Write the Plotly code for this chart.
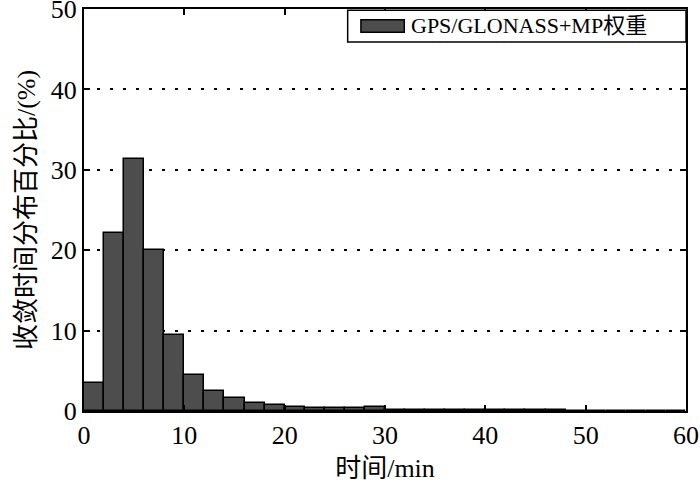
import plotly.graph_objects as go

bin_starts = list(range(0, 60, 2))
bin_width = 2
percent = [3.5, 22.1, 31.4, 20.0, 9.4, 4.5, 2.5, 1.6, 1.0, 0.8,
           0.45, 0.4, 0.4, 0.4, 0.55, 0.15, 0.12, 0.12, 0.12, 0.12,
           0.08, 0.08, 0.08, 0.08, 0.06, 0.06, 0.06, 0.06, 0.0, 0.0]
series_name = "GPS/GLONASS+MP权重"
x_ticks = [0, 10, 20, 30, 40, 50, 60]
y_ticks = [0, 10, 20, 30, 40, 50]

centers = [s + bin_width / 2 for s in bin_starts]

font_family = "Liberation Serif, Times New Roman, Noto Sans CJK SC, serif"
bar_fill = "#4d4d4d"

fig = go.Figure()
fig.add_trace(go.Bar(
    x=centers, y=percent, width=[bin_width] * len(centers),
    name=series_name,
    marker=dict(color=bar_fill, line=dict(color="black", width=1.5)),
    showlegend=False,
))

# legend box drawn in the upper right corner (paper coordinates)
fig.add_shape(type="rect", xref="paper", yref="paper",
              x0=0.438, x1=1.0, y0=0.918, y1=0.997,
              line=dict(color="black", width=1.5), fillcolor="white", layer="above")
fig.add_shape(type="rect", xref="paper", yref="paper",
              x0=0.46, x1=0.532, y0=0.942, y1=0.973,
              line=dict(color="black", width=1.5), fillcolor=bar_fill, layer="above")
fig.add_annotation(text=series_name, xref="paper", yref="paper",
                   x=0.54, y=0.958, xanchor="left", yanchor="middle",
                   showarrow=False, font=dict(size=22, family=font_family))

fig.update_layout(
    width=700, height=488,
    margin=dict(l=84, r=14, t=9, b=77),
    paper_bgcolor="white", plot_bgcolor="white",
    font=dict(family=font_family, size=26, color="black"),
    bargap=0,
    xaxis=dict(
        range=[0, 60], tickvals=x_ticks, ticktext=[str(v) for v in x_ticks],
        ticks="inside", ticklen=6, tickwidth=1.5, tickcolor="black",
        showline=True, linecolor="black", linewidth=2, mirror="ticks",
        showgrid=False, zeroline=False, automargin=False,
        ticklabeloverflow="allow",
        title=dict(text="时间/min", font=dict(size=26), standoff=10),
    ),
    yaxis=dict(
        range=[0, 50], tickvals=y_ticks, ticktext=[str(v) for v in y_ticks],
        ticks="inside", ticklen=6, tickwidth=1.5, tickcolor="black",
        showline=True, linecolor="black", linewidth=2, mirror="ticks",
        showgrid=True, gridcolor="black", gridwidth=2, griddash="2.5px,10.5px",
        zeroline=False, automargin=False, ticklabeloverflow="allow",
        title=dict(text="收敛时间分布百分比/(%)", font=dict(size=26), standoff=8),
    ),
)

fig.write_html("out.html", config={"displayModeBar": False},
               post_script="document.body.style.margin='0';")
